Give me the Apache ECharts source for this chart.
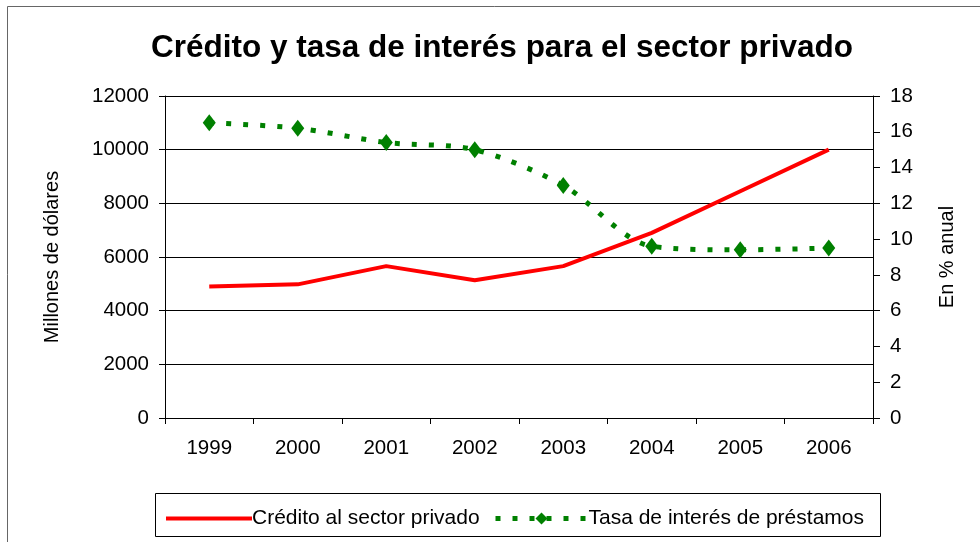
<!DOCTYPE html>
<html>
<head>
<meta charset="utf-8">
<script src="https://cdn.jsdelivr.net/npm/echarts@6/dist/echarts.min.js"></script>
<style>
html,body{margin:0;padding:0;background:#fff;}
#chart{width:980px;height:542px;}
</style>
</head>
<body>
<div id="chart"></div>
<script>
var years = ['1999','2000','2001','2002','2003','2004','2005','2006'];
var credito = [4900, 4980, 5660, 5130, 5660, 6900, 8450, 10000];
var tasa = [16.5, 16.2, 15.4, 15.0, 13.0, 9.6, 9.4, 9.5];
var leftTicks = {min: 0, max: 12000, interval: 2000};
var rightTicks = {min: 0, max: 18, interval: 2};

var FONT = 'Liberation Sans, Arial, sans-serif';
var chart = echarts.init(document.getElementById('chart'), null, {renderer: 'canvas'});
chart.setOption({
  backgroundColor: '#fff',
  animation: false,
  textStyle: {fontFamily: FONT, color: '#000'},
  title: {
    text: 'Crédito y tasa de interés para el sector privado',
    left: 146, top: 27,
    textStyle: {fontFamily: FONT, fontSize: 31.5, fontWeight: 'bold', color: '#000'}
  },
  graphic: [
    {type: 'rect', shape: {x: 7.5, y: 6.5, width: 1000, height: 600}, style: {fill: null, stroke: '#666', lineWidth: 1}, silent: true, z: -1},
    {type: 'rect', shape: {x: 155.5, y: 493.5, width: 725, height: 43}, style: {fill: null, stroke: '#000', lineWidth: 1}, silent: true}
  ],
  legend: [
    {
      data: ['Crédito al sector privado'],
      left: 159, top: 503, itemWidth: 86, itemHeight: 14, itemGap: 0,
      itemStyle: {opacity: 0},
      lineStyle: {width: 4},
      textStyle: {fontFamily: FONT, fontSize: 21, color: '#000', padding: [0, 0, 0, -5]}
    },
    {
      data: ['Tasa de interés de préstamos'],
      left: 488, top: 503, itemWidth: 92, itemHeight: 15, itemGap: 0,
      lineStyle: {width: 5},
      textStyle: {fontFamily: FONT, fontSize: 21, color: '#000', padding: [0, 0, 0, -4]}
    }
  ],
  grid: {left: 165, right: 107, top: 96, bottom: 124, containLabel: false},
  xAxis: {
    type: 'category',
    data: years,
    boundaryGap: true,
    axisLine: {show: true, lineStyle: {color: '#000', width: 1}},
    axisTick: {show: true, alignWithLabel: false, interval: 0, length: 6, lineStyle: {color: '#000'}},
    axisLabel: {fontSize: 20.5, color: '#000', margin: 20, fontFamily: FONT},
    splitLine: {show: false}
  },
  yAxis: [
    {
      type: 'value',
      min: leftTicks.min, max: leftTicks.max, interval: leftTicks.interval,
      name: 'Millones de dólares',
      nameLocation: 'middle', nameRotate: 90, nameGap: 103,
      nameTextStyle: {fontSize: 20, color: '#000', fontFamily: FONT},
      axisLine: {show: true, lineStyle: {color: '#000', width: 1}},
      axisTick: {show: true, length: 6, lineStyle: {color: '#000'}},
      axisLabel: {fontSize: 20.5, color: '#000', margin: 16, fontFamily: FONT, formatter: function (v) { return String(v); }},
      splitLine: {show: true, lineStyle: {color: '#000', width: 1}}
    },
    {
      type: 'value',
      position: 'right',
      min: rightTicks.min, max: rightTicks.max, interval: rightTicks.interval,
      name: 'En % anual',
      nameLocation: 'middle', nameRotate: 90, nameGap: 64,
      nameTextStyle: {fontSize: 20, color: '#000', fontFamily: FONT},
      axisLine: {show: true, lineStyle: {color: '#000', width: 1}},
      axisTick: {show: true, length: 7, lineStyle: {color: '#000'}},
      axisLabel: {fontSize: 20.5, color: '#000', margin: 17, fontFamily: FONT},
      splitLine: {show: false}
    }
  ],
  series: [
    {
      name: 'Crédito al sector privado',
      type: 'line',
      data: credito,
      yAxisIndex: 0,
      symbol: 'none',
      color: '#ff0000',
      lineStyle: {color: '#ff0000', width: 4},
      z: 3
    },
    {
      name: 'Tasa de interés de préstamos',
      type: 'line',
      data: tasa,
      yAxisIndex: 1,
      smooth: 0.3,
      symbol: 'diamond',
      symbolSize: [13, 17],
      color: '#008000',
      itemStyle: {color: '#008000'},
      lineStyle: {color: '#008000', width: 5, type: [5, 12]},
      z: 2
    }
  ]
});
</script>
</body>
</html>
